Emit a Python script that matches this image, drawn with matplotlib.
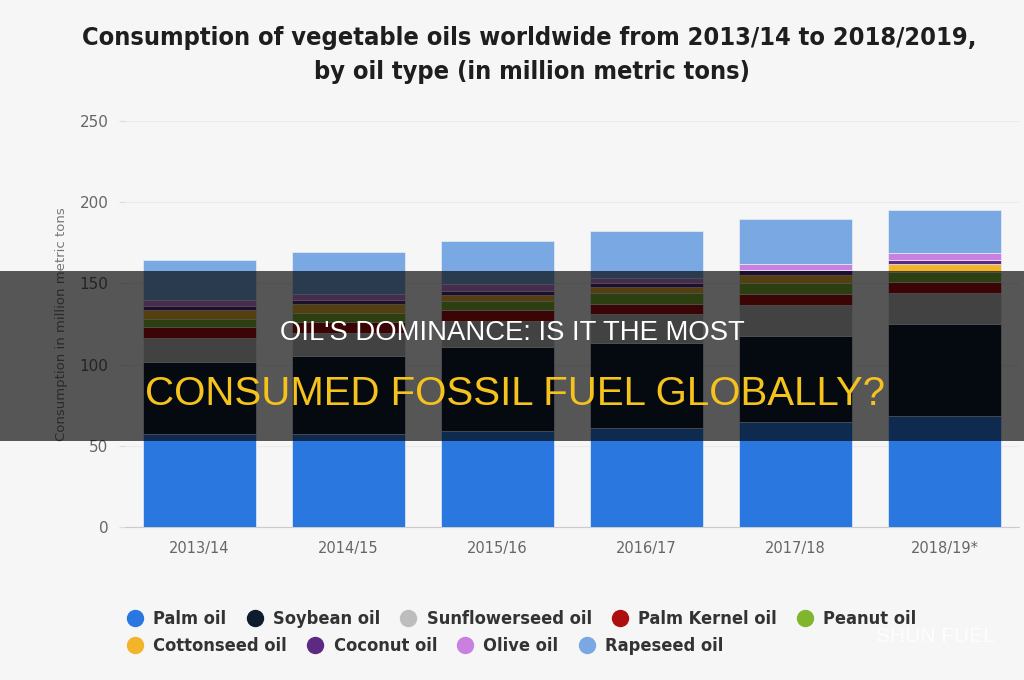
import numpy as np
import matplotlib
matplotlib.use('Agg')
import matplotlib.pyplot as plt
from matplotlib.lines import Line2D
from matplotlib.patches import Rectangle

#====================
# Data (million metric tons)
#====================
years = ['2013/14', '2014/15', '2015/16', '2016/17', '2017/18', '2018/19*']
oil_names = ['Palm oil', 'Soybean oil', 'Sunflowerseed oil', 'Palm Kernel oil', 'Peanut oil',
             'Cottonseed oil', 'Coconut oil', 'Olive oil', 'Rapeseed oil']
palm = [57, 57.5, 59, 61, 64.5, 68.5]
soybean = [44.5, 47.5, 52, 52, 53, 56.5]
sunflower = [15, 14.5, 16, 18, 19, 19]
palm_kernel = [6.5, 7, 6.5, 6.5, 7, 7]
peanut = [5, 5.5, 5.5, 6.5, 6.5, 6]
cottonseed = [5.5, 5.5, 4, 3.5, 5, 5]
coconut = [2.5, 2.5, 2.5, 2.5, 3.5, 2.5]
olive = [3.5, 3.5, 4, 3.5, 3.5, 4.5]
rapeseed = [25, 26, 26.5, 29, 27.5, 26.5]

series = [palm, soybean, sunflower, palm_kernel, peanut, cottonseed, coconut, olive, rapeseed]
colors = ['#2a78df', '#0e1d2e', '#bdbdbd', '#ad0f0f', '#80b62e',
          '#f1b42a', '#5c2a82', '#c980e0', '#79a8e2']

bg = '#f6f6f6'

#====================
# Chart
#====================
fig = plt.figure(figsize=(10.24, 6.8), dpi=100, facecolor=bg)
ax = fig.add_axes([125 / 1024, 1 - 527 / 680, 894 / 1024, 406 / 680])
ax.set_facecolor(bg)

x = np.arange(len(years))
bottom = np.zeros(len(years))
for vals, col in zip(series, colors):
    ax.bar(x, vals, width=0.765, bottom=bottom, color=col,
           edgecolor='#e9eef5', linewidth=0.5, zorder=3)
    bottom += np.array(vals)

ax.set_xlim(-0.5, len(years) - 0.5)
ax.set_ylim(0, 250)
ax.set_yticks([0, 50, 100, 150, 200, 250])
ax.set_xticks(x)
ax.set_xticklabels(years)
ax.tick_params(axis='y', length=4, color='#dddddd', labelsize=11, labelcolor='#666666', pad=8)
ax.tick_params(axis='x', length=0, labelsize=10.5, labelcolor='#666666', pad=10)
ax.grid(axis='y', color='#ebebeb', linewidth=0.8, zorder=0)
for s in ['top', 'right', 'left']:
    ax.spines[s].set_visible(False)
ax.spines['bottom'].set_color('#cccccc')
ax.set_ylabel('Consumption in million metric tons', fontsize=9.5, color='#777777', labelpad=8)

# title
fig.text(0.517, 1 - 38 / 680, 'Consumption of vegetable oils worldwide from 2013/14 to 2018/2019,',
         ha='center', va='center', fontsize=18.2, fontweight='bold', color='#1e1e1e',
         family='DejaVu Sans', fontstretch='condensed')
fig.text(0.52, 1 - 72 / 680, 'by oil type (in million metric tons)',
         ha='center', va='center', fontsize=18.2, fontweight='bold', color='#1e1e1e',
         family='DejaVu Sans', fontstretch='condensed')

# legend, two flowing rows
handles = [Line2D([], [], marker='o', linestyle='', markersize=11.5,
                  markerfacecolor=c, markeredgecolor=c) for c in colors]
rows = [(0, 5, 1 - 619 / 680), (5, 9, 1 - 646 / 680)]
for a, b, yy in rows:
    leg = fig.legend(handles[a:b], oil_names[a:b], loc='center left',
                     bbox_to_anchor=(127 / 1024, yy), ncol=b - a, frameon=False,
                     handlelength=0.9, handletextpad=0.55, columnspacing=1.1,
                     borderpad=0, borderaxespad=0,
                     prop={'family': 'DejaVu Sans', 'weight': 'bold', 'size': 13.1,
                           'stretch': 'condensed'})
    for t in leg.get_texts():
        t.set_color('#333333')

#====================
# Headline overlay band
#====================
fig.add_artist(Rectangle((0, 1 - 441 / 680), 1, 170 / 680, transform=fig.transFigure,
                         facecolor='black', alpha=0.65, edgecolor='none', zorder=10))
fig.text(0.5, 1 - 333 / 680, "OIL'S DOMINANCE: IS IT THE MOST", ha='center', va='center',
         fontsize=19.8, color='white', family='Liberation Sans', zorder=11)
fig.text(0.503, 1 - 394 / 680, 'CONSUMED FOSSIL FUEL GLOBALLY?', ha='center', va='center',
         fontsize=29, color='#f6c21c', family='Liberation Sans', zorder=11)

# watermark
fig.text(0.913, 1 - 637 / 680, 'SHUN FUEL', ha='center', va='center', fontsize=15,
         color='white', alpha=0.85, family='Liberation Sans', zorder=11)

fig.savefig('out.png', dpi=100, facecolor=bg)
